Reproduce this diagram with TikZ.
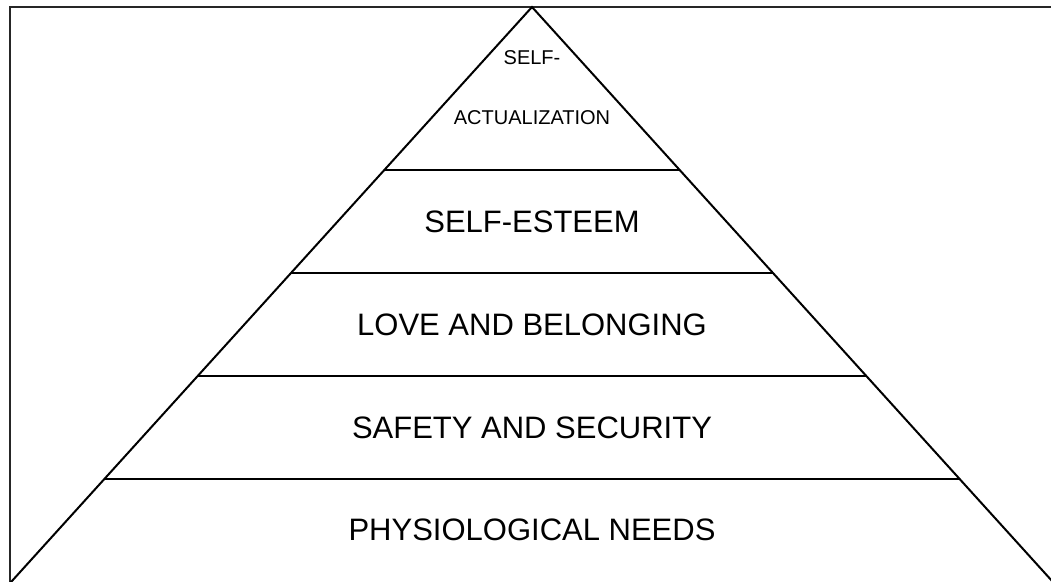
\documentclass[tikz,border=0pt]{standalone}
\usepackage{fontspec}
\setmainfont{Liberation Sans}
\begin{document}
\begin{tikzpicture}[x=1pt,y=-1pt,
  edge/.style={line width=2pt,black},
  frame/.style={line width=2.2pt,black!85},
  big/.style={font=\fontsize{31}{36}\selectfont,inner sep=0pt},
  small/.style={font=\fontsize{20}{24}\selectfont,inner sep=0pt}]
\useasboundingbox (0,0) rectangle (1051,581);
\clip (0,0) rectangle (1051,581);
\draw[frame] (10,7) rectangle (1070,600);
% pyramid
\coordinate (apex) at (532,7);
\coordinate (bl) at (532-0.906*600,607);
\coordinate (br) at (532+0.906*600,607);
\draw[edge] (bl) -- (apex) -- (br);
\foreach \y/\n in {170/a,273/b,376/c,479/d}{
  \coordinate (l\n) at ({532-0.906*(\y-7)},\y);
  \coordinate (r\n) at ({532+0.906*(\y-7)},\y);
  \draw[edge] (l\n) -- (r\n);
}
\node[small] (t1a) at (532,58) {SELF-};
\node[small] (t1b) at (532,118) {ACTUALIZATION};
\node[big] (t2) at (532,222) {SELF-ESTEEM};
\node[big] (t3) at (532,325) {LOVE AND BELONGING};
\node[big] (t4) at (532,428) {SAFETY AND SECURITY};
\node[big] (t5) at (532,530) {PHYSIOLOGICAL NEEDS};
\end{tikzpicture}
\end{document}
